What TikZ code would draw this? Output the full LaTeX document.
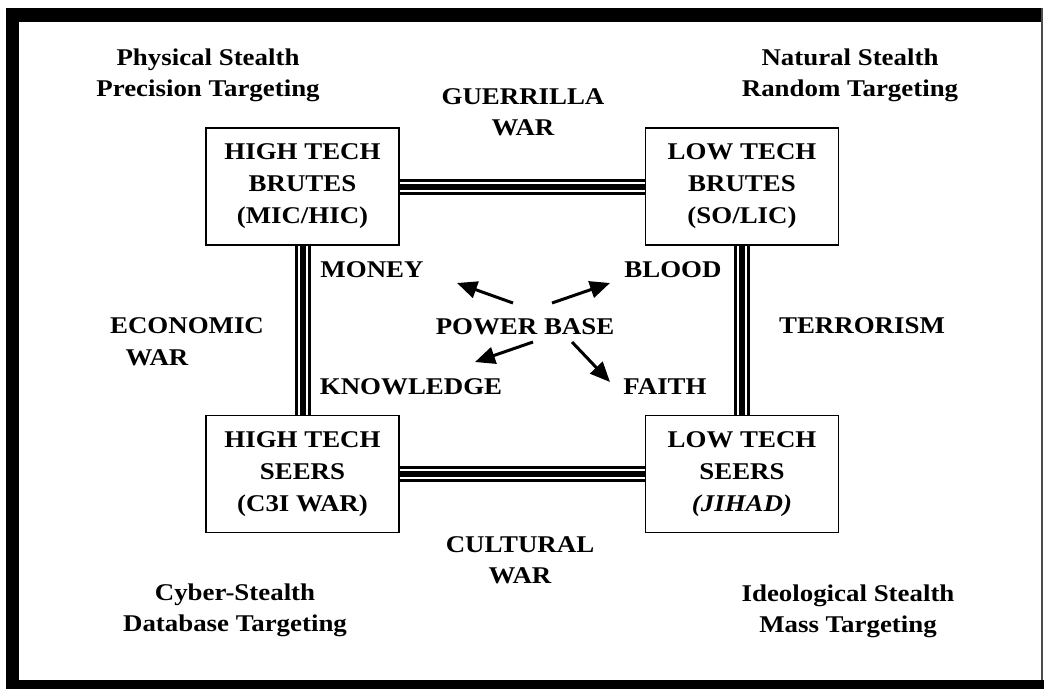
\documentclass[tikz,border=0pt]{standalone}
\usepackage{fontspec}
\setmainfont{Liberation Serif}[FakeStretch=1.12]
\usetikzlibrary{arrows.meta}
\begin{document}
\begin{tikzpicture}[x=1pt,y=-1pt,
  lbl/.style={font=\fontsize{24}{31}\selectfont\bfseries, align=center, inner sep=0pt},
  card/.style={draw, line width=1.6pt, minimum width=193pt, minimum height=117pt,
    inner sep=0pt, align=center, font=\fontsize{24}{32}\selectfont\bfseries},
  link/.style={line width=16pt, line cap=butt,
    postaction={draw=white, line width=2pt, double=black, double distance=6pt}},
  push/.style={line width=3pt, -{Triangle[length=20pt,width=17pt]}}]

% page and frame
\fill[white] (0,0) rectangle (1044,689);
\useasboundingbox (0,0) rectangle (1044,689);
\fill (6,8) rectangle (19,689);
\fill (6,8) rectangle (1042,22);
\fill (6,680) rectangle (1044,689);
\draw[line width=1.2pt, black!70] (1042,8) -- (1042,680);

% connectors between the four quadrants
\coordinate (htbC) at (302.5,186.5);
\coordinate (ltbC) at (742,186.5);
\coordinate (htsC) at (302.5,474);
\coordinate (ltsC) at (742,474);
\draw[link] (htbC) -- (ltbC);
\draw[link] (htsC) -- (ltsC);
\draw[link] (htbC) -- (htsC);
\draw[link] (ltbC) -- (ltsC);

% quadrant boxes
\node[card, fill=white] (htb) at (htbC) {HIGH TECH\\BRUTES\\(MIC/HIC)};
\node[card, fill=white] (ltb) at (ltbC) {LOW TECH\\BRUTES\\(SO/LIC)};
\node[card, fill=white] (hts) at (htsC) {HIGH TECH\\SEERS\\(C3I WAR)};
\node[card, fill=white] (lts) at (ltsC) {LOW TECH\\SEERS\\\textit{(JIHAD)}};

% corner captions
\node[lbl] (phys) at (208,75) {Physical Stealth\\Precision Targeting};
\node[lbl] (natu) at (850,75) {Natural Stealth\\Random Targeting};
\node[lbl] (cyber) at (235,610) {Cyber-Stealth\\Database Targeting};
\node[lbl] (ideo) at (848,611) {Ideological Stealth\\Mass Targeting};

% edge captions
\node[lbl] (guer) at (523,112) {GUERRILLA\\WAR};
\node[lbl] (cult) at (520,560) {CULTURAL\\WAR};
\node[lbl] (econA) at (187,326) {ECONOMIC};
\node[lbl] (econB) at (157,358) {WAR};
\node[lbl] (terr) at (862,326) {TERRORISM};

% power base and its four sources
\node[lbl] (power) at (525,327) {POWER BASE};
\node[lbl] (money) at (372,270) {MONEY};
\node[lbl] (blood) at (673,270) {BLOOD};
\node[lbl] (know) at (411,387) {KNOWLEDGE};
\node[lbl] (faith) at (665,387) {FAITH};

\coordinate (mFrom) at (513,303);
\coordinate (mTo) at (457,283);
\coordinate (bFrom) at (552,303);
\coordinate (bTo) at (610,283);
\coordinate (kFrom) at (533,342);
\coordinate (kTo) at (475,362);
\coordinate (fFrom) at (572,342);
\coordinate (fTo) at (610,382);
\draw[push] (mFrom) -- (mTo);
\draw[push] (bFrom) -- (bTo);
\draw[push] (kFrom) -- (kTo);
\draw[push] (fFrom) -- (fTo);
\end{tikzpicture}
\end{document}
